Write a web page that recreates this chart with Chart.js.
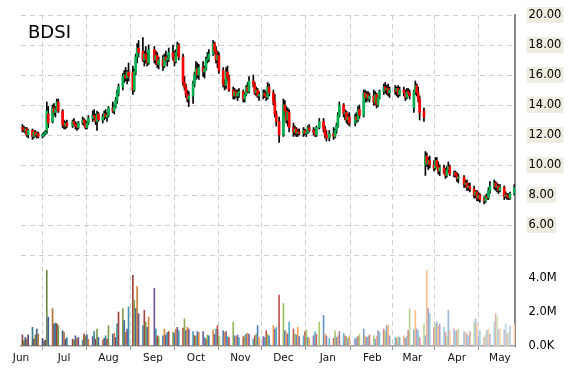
<!DOCTYPE html>
<html>
<head>
<meta charset="utf-8">
<script src="https://cdn.jsdelivr.net/npm/chart.js@4.4.0/dist/chart.umd.min.js"></script>
<style>
  html, body { margin: 0; padding: 0; background: #fff; }
  #wrap { width: 570px; height: 370px; }
</style>
</head>
<body>
<div id="wrap"><canvas id="chartBDSI" width="570" height="370"></canvas></div>
<script>
'use strict';

// ─── DATA ────────────────────────────────────────────────────
// x axis = calendar day counted from Sun 1 Jun 2014 (day 0)

const SYMBOL = 'BDSI';

const monthDays   = [0, 30, 61, 92, 122, 153, 183, 214, 245, 273, 304, 334];
const monthLabels = ['Jun', 'Jul', 'Aug', 'Sep', 'Oct', 'Nov', 'Dec', 'Jan', 'Feb', 'Mar', 'Apr', 'May'];
const holidays    = [33, 92, 179, 207, 214, 232, 260, 306];
const lastDay     = 344;

const priceTicks  = [4, 6, 8, 10, 12, 14, 16, 18, 20];
const volumeTicks = [0, 2, 4];   // millions

const opens = [
  // Jun
  12.5,12.4,12.3,12.4,12.0, 12.3,11.9,12.2,12.0,12.1, 11.9,12.0,12.1,12.3,13.4, 12.9,13.8,13.5,13.7,14.2, 13.6,
  // Jul
  12.7,12.6,12.8, 12.6,12.9,12.7,12.6,12.5, 12.8,13.0,12.8,12.5,12.8, 13.1,13.3,13.2,12.9,13.4, 13.0,13.2,13.4,13.2,
  // Aug
  13.3, 13.8,13.6,13.9,14.3,14.8, 15.2,15.9,16.0,15.8,16.2, 16.2,15.0,16.2,17.2,17.8, 17.6,17.0,17.4,17.1,16.8,
  // Sep
  17.7,17.0,17.3,16.7, 17.0,16.6,17.2,17.0,17.1, 17.5,17.2,16.9,17.5,18.0, 17.2,15.5,15.2,14.7,14.4, 14.6,15.4,
  // Oct
  16.0,16.4,16.0, 16.5,16.2,16.4,17.0,17.1, 17.4,18.1,17.6,17.0,17.3, 16.3,15.4,15.3,16.2,15.8, 15.0,14.6,14.9,14.6,14.8,
  // Nov
  14.9,14.4,14.7,15.2,14.9, 15.6,15.4,14.8,15.0,14.6, 14.7,14.8,14.6,14.5,15.2, 14.8,14.2,13.4,12.9,
  // Dec
  12.0,14.0,13.6,13.0,13.5, 12.5,12.2,12.4,12.1,12.2, 12.1,12.3,12.1,12.2,12.5, 12.3,12.2,12.0,12.5, 12.9,12.4,12.0,
  // Jan
  11.8, 12.1,11.9,12.3,12.6,13.3, 14.0,13.4,13.5,13.0,13.2, 12.8,13.2,13.0,13.7, 13.3,14.8,14.5,14.7,14.4,
  // Feb
  14.6,14.2,14.7,14.0,14.5, 14.9,15.2,15.0,15.1,14.8, 15.0,14.9,15.1,14.7, 15.0,14.8,14.5,14.9,14.8,
  // Mar
  13.8,14.9,15.3,14.8,14.4, 13.6,10.0,10.6,10.1,10.3, 10.0,9.8,10.3,9.9,9.6, 9.8,9.5,9.3,9.7,9.9, 9.4,9.5,
  // Apr
  9.3,9.1, 9.2,8.7,8.8,8.5,8.6, 8.4,8.0,8.2,7.8,8.0, 7.7,7.6,7.9,7.8,8.3, 8.6,8.8,8.5,8.6,
  // May
  8.3, 8.5,7.9,8.0,7.9,7.8, 8.1
];

const highs = [
  12.7,12.6,12.5,12.5,12.4, 12.4,12.3,12.3,12.2,12.2, 12.1,12.2,12.3,14.2,13.9, 14.0,14.1,13.9,14.4,14.4, 13.7,
  13.0,12.9,13.0, 13.0,13.1,12.9,12.8,12.9, 13.2,13.1,13.0,12.9,13.3, 13.6,13.7,13.4,13.6,13.5, 13.4,13.6,13.7,13.5,
  13.9, 14.2,14.0,14.5,15.0,15.4, 16.1,16.3,16.5,16.3,16.8, 16.6,16.4,17.4,18.1,18.3, 18.5,17.6,17.9,17.5,18.0,
  17.9,17.6,17.5,17.2, 17.3,17.4,17.6,17.3,17.8, 18.0,17.6,17.7,18.2,18.1, 17.4,15.9,15.4,15.0,14.9, 15.6,16.2,
  16.9,16.8,16.7, 16.9,16.6,17.2,17.5,17.7, 18.3,18.2,17.9,17.6,17.5, 16.5,15.7,16.5,16.6,16.0, 15.2,15.1,15.0,15.0,15.1,
  15.0,14.8,15.3,15.5,15.9, 16.0,15.5,15.2,15.1,14.9, 15.0,15.0,14.9,15.5,15.4, 15.0,14.7,13.6,13.2,
  14.4,14.3,13.9,13.8,13.7, 12.8,12.6,12.5,12.4,12.4, 12.5,12.4,12.3,12.6,12.7, 12.5,12.4,12.6,13.1, 13.1,12.6,12.3,
  12.3, 12.5,12.4,12.8,13.5,14.2, 14.1,13.7,13.6,13.4,13.5, 13.4,13.5,13.9,14.0, 15.0,15.0,14.9,14.9,14.8,
  15.0,14.9,14.8,14.6,15.0, 15.4,15.5,15.3,15.4,15.2, 15.3,15.2,15.3,15.2, 15.2,15.0,15.1,15.1,15.0,
  15.0,15.6,15.4,15.2,14.6, 13.8,10.9,10.8,10.5,10.6, 10.3,10.5,10.5,10.2,10.0, 10.0,9.8,9.9,10.2,10.0, 9.6,9.6,
  9.5,9.4, 9.3,9.0,9.0,8.8,8.8, 8.6,8.3,8.3,8.2,8.1, 7.9,8.0,8.1,8.5,8.9, 9.0,8.9,8.8,8.7,
  8.7, 8.6,8.2,8.1,8.1,8.2, 8.7
];

const lows = [
  12.2,12.2,12.1,11.9,11.8, 11.7,11.8,11.9,11.8,11.8, 11.8,11.9,12.0,12.1,12.5, 12.8,13.3,13.2,13.6,13.5, 12.5,
  12.4,12.4,12.5, 12.5,12.6,12.4,12.3,12.4, 12.7,12.6,12.4,12.4,12.7, 12.9,13.0,12.7,12.3,12.9, 12.8,13.0,13.1,12.9,
  13.2, 13.5,13.4,13.8,14.1,14.6, 15.0,15.5,15.6,15.4,15.6, 14.7,14.9,16.0,16.8,17.2, 16.9,16.6,16.8,16.6,16.7,
  16.8,16.7,16.5,16.4, 16.3,16.5,16.9,16.6,16.9, 17.0,16.6,16.8,17.3,17.0, 15.3,15.0,14.5,14.2,13.9, 14.1,15.2,
  15.7,15.8,15.7, 15.9,15.8,16.3,16.8,16.9, 17.3,17.4,16.8,16.5,16.1, 15.2,15.0,15.1,15.6,14.9, 14.4,14.4,14.5,14.3,14.5,
  14.2,14.2,14.6,14.8,14.8, 15.2,14.7,14.6,14.5,14.3, 14.4,14.5,14.3,14.4,14.6, 14.0,13.2,12.6,11.5,
  11.9,13.3,12.8,12.6,12.2, 11.9,12.0,11.9,11.9,12.0, 11.9,12.0,11.9,12.1,12.2, 12.0,11.9,11.9,12.4, 12.2,11.8,11.6,
  11.6, 11.7,11.8,12.1,12.5,13.2, 13.2,13.0,12.8,12.7,12.6, 12.6,12.8,12.9,13.1, 13.2,14.2,14.2,14.3,14.2,
  14.0,14.0,13.8,13.9,14.4, 14.7,14.8,14.7,14.6,14.5, 14.7,14.6,14.5,14.6, 14.6,14.3,14.4,14.6,14.4,
  13.5,14.7,14.6,14.2,13.0, 12.9,9.3,9.9,9.7,9.8, 9.6,9.7,9.8,9.4,9.3, 9.4,9.1,9.2,9.5,9.3, 9.2,9.2,
  8.9,8.8, 8.5,8.5,8.3,8.3,8.2, 7.8,7.8,7.6,7.6,7.5, 7.4,7.5,7.7,7.7,8.1, 8.4,8.3,8.2,8.1,
  8.2, 7.7,7.8,7.7,7.7,7.7, 8.0
];

const closes = [
  12.4,12.3,12.4,12.0,12.3, 11.9,12.2,12.0,12.1,11.9, 12.0,12.1,12.2,13.6,12.8, 13.8,13.5,13.7,14.2,13.6, 12.7,
  12.6,12.8,12.6, 12.9,12.7,12.6,12.5,12.8, 13.0,12.8,12.5,12.8,13.1, 13.3,13.2,12.9,13.4,13.0, 13.2,13.4,13.2,13.3,
  13.8, 13.6,13.9,14.3,14.8,15.2, 15.9,16.0,15.8,16.2,15.9, 15.0,16.2,17.2,17.8,17.5, 17.0,17.4,17.1,16.8,17.7,
  17.0,17.3,16.7,17.0, 16.6,17.2,17.0,17.1,17.5, 17.2,16.9,17.5,18.0,17.2, 15.5,15.2,14.7,14.4,14.6, 15.4,16.0,
  16.4,16.0,16.5, 16.2,16.4,17.0,17.1,17.4, 18.1,17.6,17.0,17.3,16.3, 15.4,15.3,16.2,15.8,15.0, 14.6,14.9,14.6,14.8,14.9,
  14.4,14.7,15.2,14.9,15.6, 15.4,14.8,15.0,14.6,14.7, 14.8,14.6,14.5,15.2,14.8, 14.2,13.4,12.9,12.0,
  14.0,13.6,13.0,13.5,12.5, 12.2,12.4,12.1,12.2,12.1, 12.3,12.1,12.2,12.5,12.3, 12.2,12.0,12.5,12.9, 12.4,12.0,11.8,
  12.1, 11.9,12.3,12.6,13.3,14.0, 13.4,13.5,13.0,13.2,12.8, 13.2,13.0,13.7,13.3, 14.8,14.5,14.7,14.4,14.6,
  14.2,14.7,14.0,14.5,14.9, 15.2,15.0,15.1,14.8,15.0, 14.9,15.1,14.7,15.0, 14.8,14.5,14.9,14.8,14.6,
  14.9,15.3,14.8,14.4,13.5, 13.2,10.6,10.1,10.3,10.0, 9.8,10.3,9.9,9.6,9.8, 9.5,9.3,9.7,9.9,9.4, 9.5,9.3,
  9.1,9.2, 8.7,8.8,8.5,8.6,8.4, 8.0,8.2,7.8,8.0,7.7, 7.6,7.9,7.8,8.3,8.6, 8.8,8.5,8.6,8.3,
  8.5, 7.9,8.0,7.9,7.8,8.1, 8.5
];

const volumes = [
  0.65,0.3,0.5,0.4,0.65, 1.1,0.4,0.65,1.0,0.7, 0.45,0.3,0.35,4.45,1.7, 2.2,1.3,1.35,1.3,1.2, 0.9,
  0.8,0.4,0.5, 0.4,0.35,0.6,0.45,0.5, 0.35,0.7,0.6,0.65,0.4, 0.55,0.85,0.4,1.0,0.5, 0.35,0.45,0.6,0.4,
  1.2, 0.7,0.75,0.5,1.3,2.0, 2.2,1.5,0.8,1.0,2.3, 4.15,2.7,2.2,3.5,1.9, 1.2,2.1,1.4,1.1,1.7,
  3.4,1.0,0.6,0.55, 0.6,1.0,0.65,0.8,0.85, 0.8,0.75,1.0,1.1,0.9, 1.05,1.6,0.9,1.1,1.0, 0.85,0.6,
  0.6,0.85,0.8, 0.85,0.5,0.4,0.65,0.6, 0.95,0.7,1.0,1.2,0.6, 0.9,0.8,0.85,0.55,0.5, 1.4,0.6,0.55,0.65,0.5,
  0.55,0.6,0.7,0.75,0.7, 0.4,0.6,0.7,1.2,0.5, 0.55,0.5,0.9,0.7,0.6, 1.2,1.0,1.1,3.0,
  2.5,0.9,0.8,0.7,1.4, 1.0,0.7,0.65,1.1,0.55, 0.6,0.85,0.95,0.5,0.45, 0.6,0.85,0.7,1.4, 1.8,0.7,0.6,
  0.45, 0.45,0.9,0.5,0.6,0.85, 0.75,0.6,0.55,0.45,0.6, 0.4,0.5,0.55,0.7, 1.0,0.6,0.5,0.55,0.65,
  0.6,0.4,0.55,0.9,0.8, 1.0,0.85,1.2,1.25,0.6, 0.5,0.45,0.55,0.5, 0.6,0.45,0.55,0.9,2.2,
  0.95,2.1,1.0,0.9,0.5, 1.3,0.6,4.45,2.2,1.9, 1.1,1.3,1.4,1.2,1.3, 1.1,0.8,0.6,2.1,0.9, 1.0,0.85,
  0.9,1.0, 0.85,0.8,0.7,0.6,0.85, 1.4,1.6,1.3,0.6,0.9, 0.5,0.7,0.95,1.0,0.7, 1.4,1.9,1.75,1.0,
  1.0, 0.95,1.3,0.7,0.8,1.15, 1.25
];

// ─── STYLE ───────────────────────────────────────────────────

const UP_COLOR   = '#00b050';
const DOWN_COLOR = '#ff0000';
const GRID_COLOR = '#cfcfcf';
const AXIS_COLOR = '#8a8a8a';
const LABEL_FONT = 'DejaVu Sans';
const VOL_PALETTE = ['#C0504D', '#9BBB59', '#4F81BD', '#F79646', '#8064A2', '#4BACC6'];

// darker at the start, paler towards the end
function shade(hex, t) {
  let r = parseInt(hex.slice(1, 3), 16);
  let g = parseInt(hex.slice(3, 5), 16);
  let b = parseInt(hex.slice(5, 7), 16);
  if (t < 0.5) {
    const k = 0.72 + 0.56 * t;
    r *= k; g *= k; b *= k;
  } else {
    const w = (t - 0.5) * 1.2;
    r += (255 - r) * w; g += (255 - g) * w; b += (255 - b) * w;
  }
  return `rgb(${Math.round(r)},${Math.round(g)},${Math.round(b)})`;
}

// trading days: weekdays minus exchange holidays
const tradingDays = [];
for (let d = 1; d <= lastDay; d++) {
  const wd = d % 7;
  if (wd === 0 || wd === 6 || holidays.includes(d)) continue;
  tradingDays.push(d);
}
if (tradingDays.length !== closes.length) console.warn('length mismatch', tradingDays.length, closes.length);

const n = tradingDays.length;
const wickData = tradingDays.map((d, i) => ({ x: d, y: [lows[i], highs[i]] }));
const bodyData = tradingDays.map((d, i) => ({ x: d, y: [opens[i], closes[i]] }));
const bodyColors = tradingDays.map((_, i) => closes[i] >= opens[i] ? UP_COLOR : DOWN_COLOR);
const volData = tradingDays.map((d, i) => ({ x: d, y: volumes[i] }));
const volColors = tradingDays.map((_, i) => shade(VOL_PALETTE[i % VOL_PALETTE.length], i / (n - 1)));

const symbolTitle = {
  id: 'symbolTitle',
  afterDraw(chart) {
    const ctx = chart.ctx;
    ctx.save();
    ctx.font = `18px "${LABEL_FONT}"`;
    ctx.fillStyle = '#000';
    ctx.textBaseline = 'alphabetic';
    ctx.fillText(SYMBOL, 28, 38);
    ctx.restore();
  }
};

new Chart(document.getElementById('chartBDSI'), {
  type: 'bar',
  data: {
    datasets: [
      {
        label: 'body',
        data: bodyData,
        yAxisID: 'price',
        backgroundColor: bodyColors,
        barThickness: 2,
        minBarLength: 1,
        grouped: false,
        order: 0
      },
      {
        label: 'wick',
        data: wickData,
        yAxisID: 'price',
        backgroundColor: '#000',
        barThickness: 1,
        grouped: false,
        order: 1
      },
      {
        label: 'volume',
        data: volData,
        yAxisID: 'vol',
        backgroundColor: volColors,
        barThickness: 1,
        grouped: false,
        order: 2
      }
    ]
  },
  options: {
    responsive: false,
    animation: false,
    devicePixelRatio: 1,
    events: [],
    layout: { padding: { left: 21, top: 15, right: 0, bottom: 0 } },
    plugins: { legend: { display: false }, tooltip: { enabled: false } },
    scales: {
      x: {
        type: 'linear',
        min: 0,
        max: 344.5,
        offset: false,
        afterBuildTicks: s => { s.ticks = monthDays.map(v => ({ value: v })); },
        afterFit: s => { s.height = 24; },
        ticks: {
          autoSkip: false,
          maxRotation: 0,
          padding: 2,
          color: '#111',
          font: { family: LABEL_FONT, size: 10.5 },
          callback: v => monthLabels[monthDays.indexOf(v)] ?? ''
        },
        grid: { color: GRID_COLOR, lineWidth: 1, drawTicks: true, tickLength: 4, tickColor: '#999', tickBorderDash: [] },
        border: { display: true, color: '#9a9a9a', width: 1.5, dash: [5, 4] }
      },
      price: {
        type: 'linear',
        position: 'right',
        stack: 'right',
        stackWeight: 240,
        weight: 0,
        min: 4,
        max: 20,
        afterBuildTicks: s => { s.ticks = priceTicks.map(v => ({ value: v })); },
        afterFit: s => { s.width = 55; },
        ticks: {
          autoSkip: false,
          padding: 2,
          color: '#000',
          font: { family: LABEL_FONT, size: 11.5 },
          showLabelBackdrop: c => !!c.tick && c.tick.value !== 4,
          backdropColor: '#eeebdf',
          backdropPadding: { x: 2, y: 1 },
          callback: v => v === 4 ? '' : v.toFixed(2)
        },
        grid: { color: GRID_COLOR, lineWidth: 1, drawTicks: true, tickLength: 11.5, tickColor: 'rgba(0,0,0,0)' },
        border: { display: true, color: AXIS_COLOR, width: 2, dash: [5, 4] }
      },
      vol: {
        type: 'linear',
        position: 'right',
        stack: 'right',
        stackWeight: 91,
        weight: 1,
        min: 0,
        max: 91 / 17,
        afterBuildTicks: s => { s.ticks = volumeTicks.map(v => ({ value: v })); },
        afterFit: s => { s.width = 55; },
        ticks: {
          autoSkip: false,
          padding: 2,
          color: '#000',
          font: { family: LABEL_FONT, size: 11.5 },
          callback: v => v === 0 ? '0.0K' : v.toFixed(1) + 'M'
        },
        grid: { drawOnChartArea: false, drawTicks: true, tickLength: 11.5, tickColor: 'rgba(0,0,0,0)' },
        border: { display: true, color: AXIS_COLOR, width: 2 }
      }
    }
  },
  plugins: [symbolTitle]
});
</script>
</body>
</html>
